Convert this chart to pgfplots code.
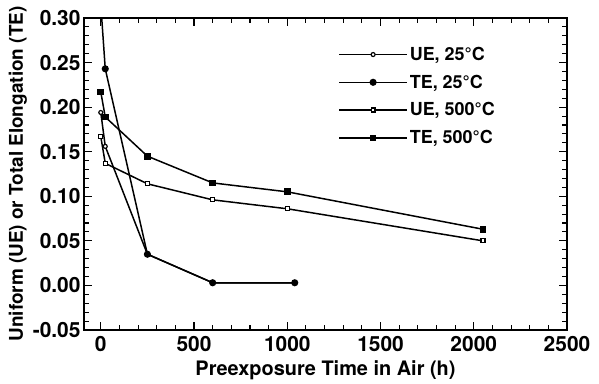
\documentclass[border=0pt]{standalone}
\usepackage{pgfplots}
\pgfplotsset{compat=1.18}
\usepackage{fontspec}
\setmainfont{TeX Gyre Heros}
\begin{document}
\begin{tikzpicture}
\begin{axis}[
  scale only axis, width=483bp, height=312bp,
  xmin=-90, xmax=2500, ymin=-0.05, ymax=0.30,
  xtick={0,500,1000,1500,2000,2500},
  ytick={-0.05,0,0.05,0.1,0.15,0.2,0.25,0.3},
  minor x tick num=4, minor y tick num=4,
  tick align=inside, xtick pos=both, ytick pos=both,
  xticklabel pos=bottom, yticklabel pos=left,
  major tick length=8bp, minor tick length=5bp,
  every tick/.style={black, line width=1.1pt},
  axis line style={line width=1.6pt},
  /pgf/number format/assume math mode=true,
  scaled y ticks=false, scaled x ticks=false,
  tick label style={font=\fontsize{21}{23}\selectfont\bfseries},
  yticklabel style={/pgf/number format/.cd, fixed, fixed zerofill, precision=2},
  xticklabel style={yshift=-3bp, /pgf/number format/.cd, fixed, 1000 sep={}},
  xlabel style={font=\fontsize{20}{22}\selectfont\bfseries, yshift=-2bp},
  ylabel style={font=\fontsize{19}{21}\selectfont\bfseries, yshift=-1bp},
  xlabel={Preexposure Time in Air (h)},
  ylabel={Uniform (UE) or Total Elongation (TE)},
  every axis plot/.append style={black, line width=1.5pt},
  legend style={draw=none, fill=none, at={(0.52,0.92)}, anchor=north west,
    font=\fontsize{18}{20}\selectfont\bfseries, row sep=9bp},
  legend cell align=left,
  legend image code/.code={\draw[mark repeat=2,mark phase=2] plot coordinates {(0bp,0bp)(34bp,0bp)(68bp,0bp)};},
]
\addplot[mark=*, mark options={fill=white, scale=1.0, line width=1.2pt}] coordinates {
 (0,0.194) (24,0.156) (250,0.035) (600,0.003) (1040,0.003)};
\addlegendentry{UE, 25°C}
\addplot[mark=*, mark options={fill=black, scale=1.4}] coordinates {
 (0,0.315) (24,0.243) (250,0.035) (600,0.003) (1040,0.003)};
\addlegendentry{TE, 25°C}
\addplot[mark=square*, mark options={fill=white, scale=1.0, line width=1.2pt}] coordinates {
 (0,0.167) (24,0.137) (250,0.114) (600,0.096) (1000,0.086) (2050,0.050)};
\addlegendentry{UE, 500°C}
\addplot[mark=square*, mark options={fill=black, scale=1.3}] coordinates {
 (0,0.217) (24,0.189) (250,0.145) (600,0.115) (1000,0.105) (2050,0.063)};
\addlegendentry{TE, 500°C}
\end{axis}
\path ([xshift=-84bp,yshift=-54bp]current axis.south west) rectangle ([xshift=32bp,yshift=18bp]current axis.north east);
\end{tikzpicture}
\end{document}
